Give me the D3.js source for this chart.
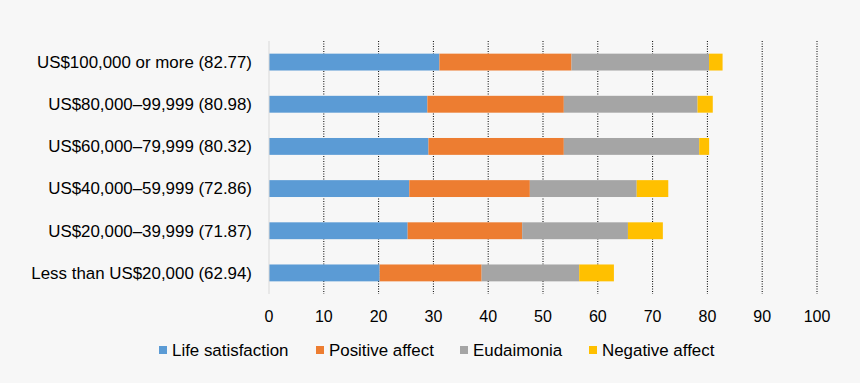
<!DOCTYPE html>
<html>
<head>
<meta charset="utf-8">
<script src="https://cdn.jsdelivr.net/npm/d3@7"></script>
<style>
  body { margin: 0; background: #f7f7f7; }
  text { font-family: "Liberation Sans", Arial, sans-serif; fill: #000; }
</style>
</head>
<body>
<div id="chart"></div>
<script>
// income groups, top to bottom
let categories = [
    "US$100,000 or more (82.77)",
    "US$80,000\u201399,999 (80.98)",
    "US$60,000\u201379,999 (80.32)",
    "US$40,000\u201359,999 (72.86)",
    "US$20,000\u201339,999 (71.87)",
    "Less than US$20,000 (62.94)"
];
let seriesNames = ["Life satisfaction", "Positive affect", "Eudaimonia", "Negative affect"];
let lifeSatisfaction = [31.1, 28.9, 29.1, 25.6, 25.3, 20.2];
let positiveAffect   = [24.1, 24.9, 24.7, 22.0, 20.9, 18.6];
let eudaimonia       = [25.1, 24.4, 24.7, 19.5, 19.3, 17.8];
let negativeAffect   = [2.47, 2.78, 1.82, 5.76, 6.37, 6.34];
let xTicks = [0, 10, 20, 30, 40, 50, 60, 70, 80, 90, 100];
let colors = ["#5b9bd5", "#ed7d31", "#a5a5a5", "#ffc000"];

let width = 860, height = 383;
let svg = d3.select("#chart").append("svg")
    .attr("width", width).attr("height", height);

svg.append("rect").attr("width", width).attr("height", height).attr("fill", "#f7f7f7");

let x = d3.scaleLinear().domain([0, 100]).range([269, 817]);
let y = d3.scaleBand().domain(categories).range([41, 294]).paddingInner(0.6).paddingOuter(0.3);

// build rows for the stack
let rows = categories.map((c, i) => ({
    cat: c,
    "Life satisfaction": lifeSatisfaction[i],
    "Positive affect": positiveAffect[i],
    "Eudaimonia": eudaimonia[i],
    "Negative affect": negativeAffect[i]
}));
let stacked = d3.stack().keys(seriesNames)(rows);

// dotted gridlines
svg.append("g").selectAll("line")
    .data(xTicks.filter(t => t > 0))
    .join("line")
    .attr("x1", d => x(d)).attr("x2", d => x(d))
    .attr("y1", 41).attr("y2", 294)
    .attr("stroke", "#000")
    .attr("stroke-width", 1)
    .attr("stroke-dasharray", "1,1.5");

// bars
svg.append("g").selectAll("g")
    .data(stacked)
    .join("g")
    .attr("fill", (d, i) => colors[i])
    .selectAll("rect")
    .data(d => d)
    .join("rect")
    .attr("x", d => x(d[0]))
    .attr("width", d => x(d[1]) - x(d[0]))
    .attr("y", d => y(d.data.cat))
    .attr("height", y.bandwidth());

// vertical axis line at 0
svg.append("line")
    .attr("x1", x(0)).attr("x2", x(0))
    .attr("y1", 41).attr("y2", 294)
    .attr("stroke", "#d9d9d9");

// category labels
svg.append("g").selectAll("text")
    .data(categories)
    .join("text")
    .attr("x", 252)
    .attr("y", d => y(d) + y.bandwidth() / 2)
    .attr("dy", "0.35em")
    .attr("text-anchor", "end")
    .style("font-size", "16.9px")
    .text(d => d);

// x tick labels
svg.append("g").selectAll("text")
    .data(xTicks)
    .join("text")
    .attr("x", d => x(d))
    .attr("y", 316)
    .attr("dy", "0.35em")
    .attr("text-anchor", "middle")
    .style("font-size", "16px")
    .text(d => d);

// legend
let legendX = [159, 316, 460, 589];
let legend = svg.append("g").selectAll("g")
    .data(seriesNames)
    .join("g")
    .attr("transform", (d, i) => `translate(${legendX[i]},350)`);
legend.append("rect")
    .attr("x", 0).attr("y", -4)
    .attr("width", 8).attr("height", 8)
    .attr("fill", (d, i) => colors[i]);
legend.append("text")
    .attr("x", 13)
    .attr("dy", "0.35em")
    .style("font-size", "16.9px")
    .text(d => d);
</script>
</body>
</html>
